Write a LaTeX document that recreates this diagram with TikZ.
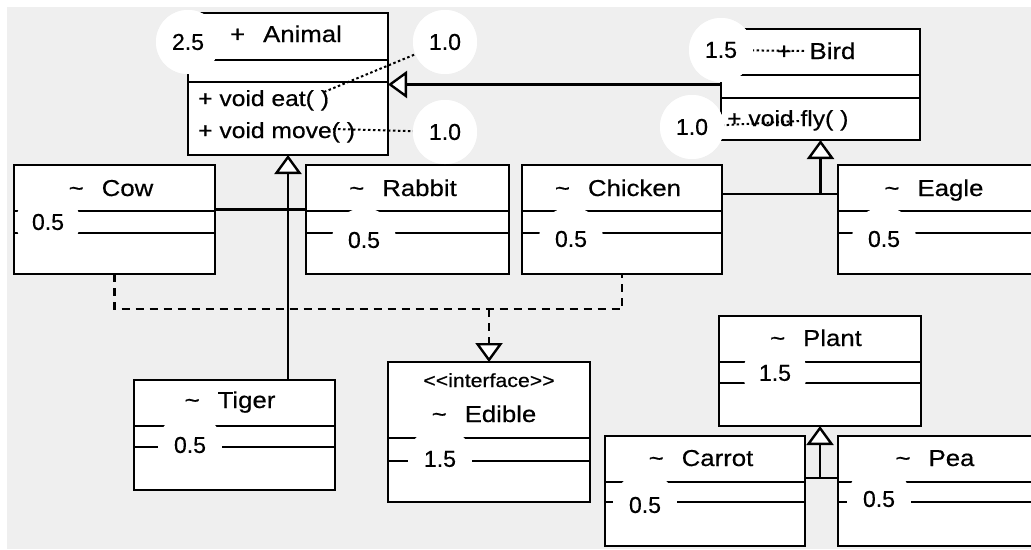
\documentclass[tikz,border=0pt]{standalone}
\usepackage{fontspec}
\setmainfont{Liberation Sans}[FakeStretch=1.12, FakeBold=0.5]
\newfontfamily\scorefont{Liberation Sans}[FakeBold=0.5]
\usetikzlibrary{arrows.meta,calc}
\definecolor{canvas}{RGB}{239,239,239}

% class box: name, left, top, width, height, first divider, second divider
\newcommand\umlclass[7]{%
  \node[classbox, minimum width=#4pt, minimum height=#5pt] (#1) at ({#2+#4/2},{#3+#5/2}) {};
  \draw[divider] ($(#1.north west)+(0,#6)$) -- ($(#1.north east)+(0,#6)$);
  \draw[divider] ($(#1.north west)+(0,#7)$) -- ($(#1.north east)+(0,#7)$);
}
% visibility marker followed by the class name
\newcommand\vis[2]{#1\hspace{18pt}#2}

\begin{document}
\begin{tikzpicture}[x=1pt,y=-1pt,
  classbox/.style={rectangle, draw, line width=2.4pt, fill=white, inner sep=0pt, outer sep=0pt},
  divider/.style={line width=2.4pt},
  title/.style={font=\fontsize{23}{27}\selectfont, inner sep=0pt, anchor=base},
  stereo/.style={font=\fontsize{19}{22}\selectfont, inner sep=0pt, anchor=base},
  member/.style={font=\fontsize{22}{26}\selectfont, inner sep=0pt, anchor=base west},
  score/.style={circle, fill=white, minimum size=64pt, inner sep=0pt, font=\scorefont\fontsize{23}{27}\selectfont},
  plainline/.style={line width=2.4pt},
  inherit/.style={line width=2.4pt, -{Triangle[open, fill=white, length=19pt, width=27pt]}},
  realize/.style={line width=2.4pt, dash pattern=on 8pt off 6pt},
  notelink/.style={line width=2pt, dash pattern=on 2.5pt off 2.5pt}]

\useasboundingbox (0,0) rectangle (1031,549);
\fill[white] (0,0) rectangle (1031,549);
\fill[canvas] (7,7) rectangle (1031,549);

% class boxes
\umlclass{animal}{188}{13}{200}{142}{47}{69}
\umlclass{bird}{721}{29}{199}{111}{46}{69}
\umlclass{cow}{14}{165}{201}{109}{46}{68}
\umlclass{rabbit}{306}{165}{203}{109}{46}{68}
\umlclass{chicken}{522}{165}{200}{109}{46}{68}
\umlclass{eagle}{838}{165}{201}{109}{46}{68}
\umlclass{tiger}{134}{380}{201}{110}{46}{67}
\umlclass{edible}{388}{362}{202}{140}{76}{99}
\umlclass{plant}{719}{316}{202}{110}{46}{67}
\umlclass{carrot}{605}{436}{200}{110}{46}{66}
\umlclass{pea}{838}{436}{201}{110}{46}{66}

% generalisations
\draw[inherit] (bird.west) -- (bird.west -| animal.east);
\draw[plainline] ($(cow.east)+(0,-10)$) -- ($(rabbit.west)+(0,-10)$);
\draw[inherit] (tiger.north -| animal.south) -- (animal.south);
\draw[plainline] ($(chicken.east)+(0,-25.5)$) coordinate (ce) -- (ce -| eagle.west);
\draw[inherit] (ce -| bird.south) -- (bird.south);
\draw[plainline] ($(carrot.east)+(0,-13)$) coordinate (cp) -- (cp -| pea.west);
\draw[inherit] (cp -| plant.south) -- (plant.south);

% realisation of the interface
\draw[realize] (cow.south) -- ++(0,35) coordinate (rr) -- (rr -| chicken.south) -- (chicken.south);
\draw[realize, -{Triangle[open, fill=white, length=19pt, width=27pt]}] (rr -| edible.north) -- (edible.north);

% score discs of the upper classes, with their leaders
\coordinate (eat-end) at (324,92);
\coordinate (move-end) at (333,129);
\coordinate (birdplus-end) at (804,51);
\coordinate (fly-end) at (799,121);

\node[score] (s-animal) at (188,42) {};
\node[score] (s-eat) at (445,42) {};
\node[score] (s-move) at (445,132) {};
\node[score] (s-bird) at (721,50) {};
\node[score] (s-fly) at (692,127) {};

\draw[notelink] (eat-end) -- (s-eat.center);
\draw[notelink] (move-end) -- (s-move.center);
\draw[notelink] (birdplus-end) -- (s-bird.center);
\draw[notelink] (fly-end) -- (s-fly.center);

\node[score] at (s-animal) {2.5};
\node[score] at (s-eat) {1.0};
\node[score] at (s-move) {1.0};
\node[score] at (s-bird) {1.5};
\node[score] at (s-fly) {1.0};

% class texts
\node[title] (t-animal) at (286,42) {\vis{+}{Animal}};
\node[title] (t-bird) at (816,59) {\vis{+}{Bird}};
\node[title] (t-cow) at (111,196) {\vis{\textasciitilde}{Cow}};
\node[title] (t-rabbit) at (403,196) {\vis{\textasciitilde}{Rabbit}};
\node[title] (t-chicken) at (618,196) {\vis{\textasciitilde}{Chicken}};
\node[title] (t-eagle) at (934,196) {\vis{\textasciitilde}{Eagle}};
\node[title] (t-tiger) at (230,408) {\vis{\textasciitilde}{Tiger}};
\node[stereo] (t-iface) at (489,387) {<\kern0pt<interface>\kern0pt>};
\node[title] (t-edible) at (484,422) {\vis{\textasciitilde}{Edible}};
\node[title] (t-plant) at (816,346) {\vis{\textasciitilde}{Plant}};
\node[title] (t-carrot) at (701,466) {\vis{\textasciitilde}{Carrot}};
\node[title] (t-pea) at (935,466) {\vis{\textasciitilde}{Pea}};

% operations
\node[member] (m-eat) at (198,106) {+ void eat( )};
\node[member] (m-move) at (198,138) {+ void move( )};
\node[member] (m-fly) at (727,126) {+ void fly( )};

% score discs of the lower classes
\node[score] (s-cow) at (48,222) {0.5};
\node[score] (s-rabbit) at (364,240) {0.5};
\node[score] (s-chicken) at (571,239) {0.5};
\node[score] (s-eagle) at (884,239) {0.5};
\node[score] (s-tiger) at (190,445) {0.5};
\node[score] (s-edible) at (440,459) {1.5};
\node[score] (s-plant) at (775,373) {1.5};
\node[score] (s-carrot) at (645,505) {0.5};
\node[score] (s-pea) at (879,499) {0.5};
\end{tikzpicture}
\end{document}
